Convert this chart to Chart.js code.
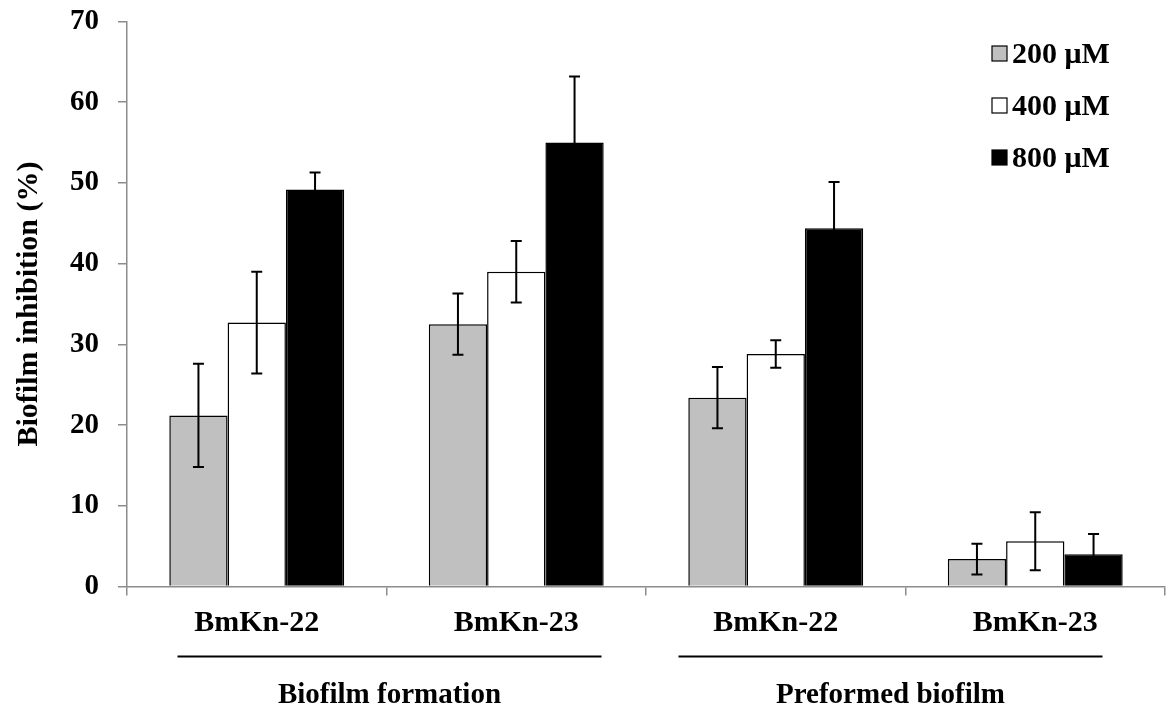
<!DOCTYPE html>
<html>
<head>
<meta charset="utf-8">
<script src="https://cdn.jsdelivr.net/npm/chart.js@4.4.1/dist/chart.umd.min.js"></script>
<style>
  html, body { margin: 0; padding: 0; background: #fff; }
</style>
</head>
<body>
<canvas id="chart" width="1172" height="706"></canvas>
<script>
const categories = ['BmKn-22', 'BmKn-23', 'BmKn-22', 'BmKn-23'];
const seriesNames = ['200 μM', '400 μM', '800 μM'];
const values200 = [21.2, 32.5, 23.4, 3.4];
const values400 = [32.7, 39.0, 28.8, 5.6];
const values800 = [49.2, 55.0, 44.4, 4.0];
const errors200 = [6.4, 3.8, 3.8, 1.9];
const errors400 = [6.3, 3.8, 1.7, 3.6];
const errors800 = [2.1, 8.2, 5.7, 2.5];
const groupNames = ['Biofilm formation', 'Preformed biofilm'];
const groupMembers = [[0, 1], [2, 3]];
const yMin = 0, yMax = 70, yStep = 10;

const serif = "'Liberation Serif', 'Times New Roman', serif";
const fills = ['#c0c0c0', '#ffffff', '#000000'];
const groupShift = [3, -15];

// barras de error (media +/- desviacion)
const errorBars = {
  id: 'errorBars',
  afterDatasetsDraw(chart) {
    const ctx = chart.ctx;
    const y = chart.scales.y;
    const errs = [errors200, errors400, errors800];
    ctx.save();
    ctx.strokeStyle = '#000';
    ctx.lineWidth = 2;
    chart.data.datasets.forEach((ds, i) => {
      chart.getDatasetMeta(i).data.forEach((bar, j) => {
        const v = ds.data[j], e = errs[i][j];
        const top = y.getPixelForValue(v + e);
        const bot = y.getPixelForValue(v - e);
        ctx.beginPath();
        ctx.moveTo(bar.x, top); ctx.lineTo(bar.x, bot);
        ctx.moveTo(bar.x - 5.5, top); ctx.lineTo(bar.x + 5.5, top);
        ctx.moveTo(bar.x - 5.5, bot); ctx.lineTo(bar.x + 5.5, bot);
        ctx.stroke();
      });
    });
    ctx.restore();
  }
};

// leyenda cuadrada arriba a la derecha
const boxLegend = {
  id: 'boxLegend',
  afterDraw(chart) {
    const ctx = chart.ctx;
    ctx.save();
    ctx.font = 'bold 30px ' + serif;
    ctx.textBaseline = 'alphabetic';
    ctx.textAlign = 'left';
    chart.data.datasets.forEach((ds, i) => {
      const top = 46 + i * 52;
      ctx.fillStyle = ds.backgroundColor;
      ctx.fillRect(992, top, 15, 15);
      ctx.strokeStyle = '#000';
      ctx.lineWidth = 1.2;
      ctx.strokeRect(992, top, 15, 15);
      ctx.fillStyle = '#000';
      ctx.fillText(ds.label, 1012, top + 17);
    });
    ctx.restore();
  }
};

// grupos debajo del eje x
const groupLabels = {
  id: 'groupLabels',
  afterDraw(chart) {
    const ctx = chart.ctx;
    const x = chart.scales.x;
    ctx.save();
    ctx.strokeStyle = '#000';
    ctx.lineWidth = 2;
    ctx.fillStyle = '#000';
    ctx.font = 'bold 29px ' + serif;
    ctx.textAlign = 'center';
    ctx.textBaseline = 'alphabetic';
    groupNames.forEach((name, g) => {
      const a = x.getPixelForValue(groupMembers[g][0]);
      const b = x.getPixelForValue(groupMembers[g][1]);
      const c = (a + b) / 2 + groupShift[g];
      ctx.beginPath();
      ctx.moveTo(c - 212, 656.5);
      ctx.lineTo(c + 212, 656.5);
      ctx.stroke();
      ctx.fillText(name, c, 703);
    });
    ctx.restore();
  }
};

new Chart(document.getElementById('chart').getContext('2d'), {
  type: 'bar',
  data: {
    labels: categories,
    datasets: [values200, values400, values800].map((vals, i) => ({
      label: seriesNames[i],
      data: vals,
      backgroundColor: fills[i],
      borderColor: '#000',
      borderWidth: 1.5,
      categoryPercentage: 0.674,
      barPercentage: 1.0
    }))
  },
  options: {
    responsive: false,
    animation: false,
    layout: { padding: { top: 21.5, right: 7, left: 0, bottom: 0 } },
    plugins: { legend: { display: false }, tooltip: { enabled: false } },
    scales: {
      x: {
        grid: { offset: true, drawOnChartArea: false, drawTicks: true, tickLength: 9, color: '#8c8c8c', lineWidth: 1.5 },
        border: { color: '#8c8c8c', width: 1.5 },
        ticks: { color: '#000', padding: 10, font: { family: serif, size: 30, weight: 'bold' } },
        afterFit: (s) => { s.height = 119.5; s.paddingLeft = 0; s.paddingRight = 0; }
      },
      y: {
        min: yMin,
        max: yMax,
        grid: { drawOnChartArea: false, drawTicks: true, tickLength: 9, color: '#8c8c8c', lineWidth: 1.5 },
        border: { color: '#8c8c8c', width: 1.5 },
        ticks: { stepSize: yStep, color: '#000', padding: 19, font: { family: serif, size: 29, weight: 'bold' } },
        title: {
          display: true,
          text: 'Biofilm inhibition (%)',
          color: '#000',
          padding: { top: 11, bottom: 0 },
          font: { family: serif, size: 30, weight: 'bold' }
        },
        afterFit: (s) => { s.width = 127; s.paddingTop = 0; s.paddingBottom = 0; }
      }
    }
  },
  plugins: [errorBars, boxLegend, groupLabels]
});
</script>
</body>
</html>
